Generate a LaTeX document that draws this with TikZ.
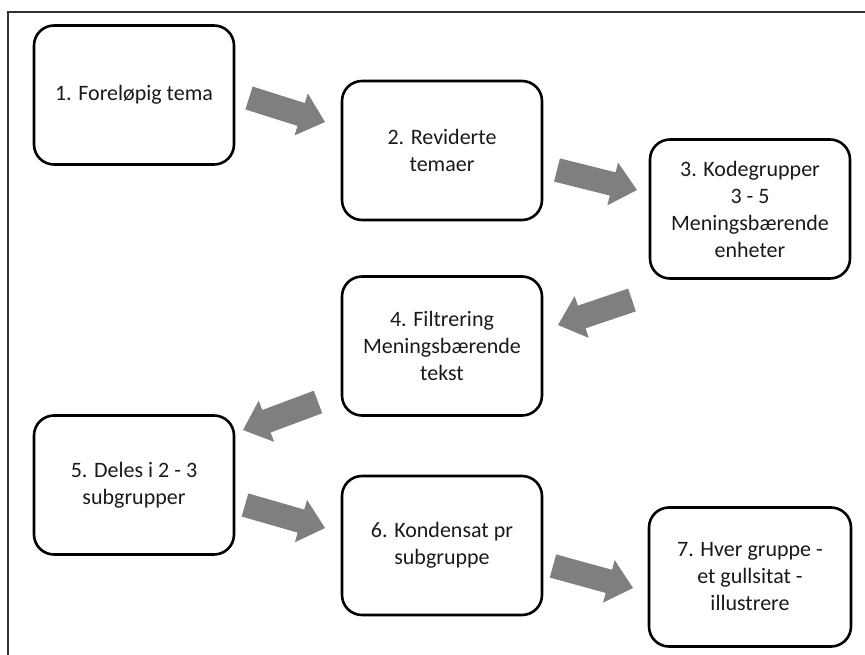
\documentclass[tikz,border=0pt]{standalone}
\usepackage{fontspec}
\setmainfont{Carlito}
\usetikzlibrary{calc}
\definecolor{arrowgray}{HTML}{7F7F7F}
\definecolor{framegray}{HTML}{333333}
\definecolor{textgray}{HTML}{1A1A1A}
\newcommand{\blockarrow}[2]{%
  \coordinate (hb) at ($(#2)!25pt!(#1)$);
  \fill[arrowgray]
    ($(#1)!12pt!90:(#2)$) --
    ($(hb)!12pt!90:(#2)$) --
    ($(hb)!22pt!90:(#2)$) --
    (#2) --
    ($(hb)!22pt!-90:(#2)$) --
    ($(hb)!12pt!-90:(#2)$) --
    ($(#1)!12pt!-90:(#2)$) -- cycle;
}
\begin{document}
\begin{tikzpicture}[x=1pt,y=-1pt,
  stepbox/.style={draw=black, line width=2.6pt, rounded corners=20pt, fill=white,
    minimum width=200pt, minimum height=139pt, align=center, text=textgray,
    font=\fontsize{22}{27}\selectfont, inner sep=4pt}]
\useasboundingbox (0,0) rectangle (865,655);
\fill[white] (0,0) rectangle (865,655);
\draw[framegray, line width=1.4pt] (8,655) -- (8,12) -- (865,12);

\node[stepbox] (b1) at (134,95) {1. Foreløpig tema};
\node[stepbox] (b2) at (442,150.5) {2. Reviderte\\temaer};
\node[stepbox] (b3) at (750,209) {3. Kodegrupper\\3 - 5\\Meningsbærende\\enheter};
\node[stepbox] (b4) at (442,346) {4. Filtrering\\Meningsbærende\\tekst};
\node[stepbox] (b5) at (134,485) {5. Deles i 2 - 3\\subgrupper};
\node[stepbox] (b6) at (442,545.5) {6. Kondensat pr\\subgruppe};
\node[stepbox, minimum width=202pt] (b7) at (750,577) {7. Hver gruppe -\\et gullsitat -\\illustrere};

\coordinate (t12) at (249,98);  \coordinate (p12) at (325,122);
\coordinate (t23) at (557,170); \coordinate (p23) at (637,190);
\coordinate (t34) at (632,300); \coordinate (p34) at (558,325);
\coordinate (t45) at (318,402); \coordinate (p45) at (243,430);
\coordinate (t56) at (245,505); \coordinate (p56) at (325,528);
\coordinate (t67) at (553,566); \coordinate (p67) at (633,588);

\blockarrow{t12}{p12}
\blockarrow{t23}{p23}
\blockarrow{t34}{p34}
\blockarrow{t45}{p45}
\blockarrow{t56}{p56}
\blockarrow{t67}{p67}
\end{tikzpicture}
\end{document}
